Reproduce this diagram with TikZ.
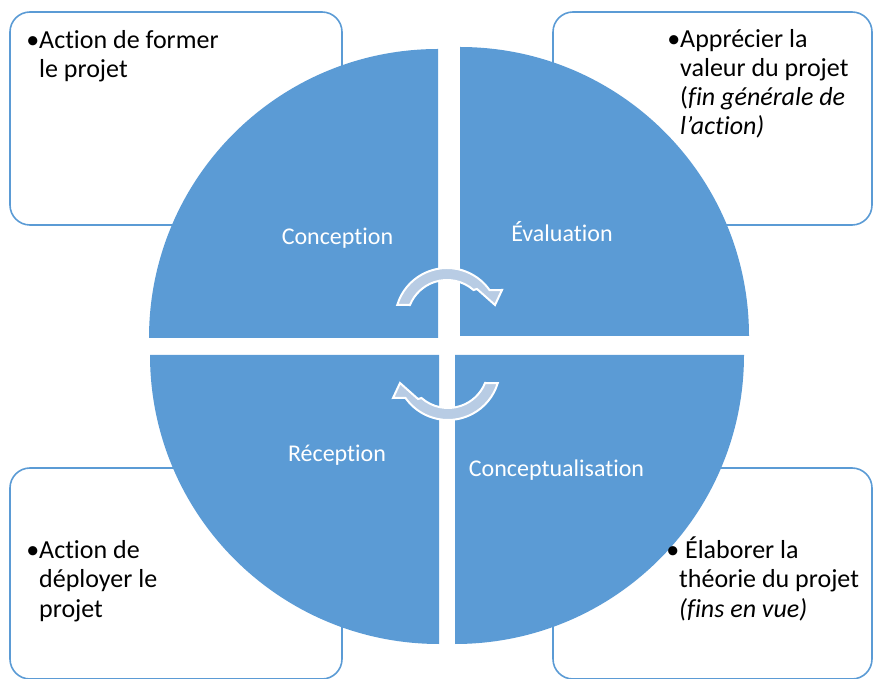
\documentclass[tikz,border=0pt]{standalone}
\usepackage{tikz}
\usepackage{fontspec}
\setmainfont{Carlito}[Ligatures={NoCommon}]
\definecolor{qblue}{HTML}{5B9BD5}
\definecolor{arrowblue}{HTML}{B8CCE4}
\begin{document}
\begin{tikzpicture}[x=1pt,y=1pt,
  box/.style={draw=qblue, line width=1.6pt, rounded corners=20pt, fill=white, rectangle, inner sep=0pt},
  quad/.style={fill=qblue},
  lbl/.style={text=white, font=\fontsize{24}{28}\selectfont, anchor=base, inner sep=0pt},
  btxt/.style={font=\fontsize{26}{29.3}\selectfont, align=left, anchor=base west, inner sep=0pt},
  cyc/.style={fill=arrowblue, draw=white, line width=2pt, line join=miter}]
\useasboundingbox (0,0) rectangle (873,678);
% corner boxes
\node[box, minimum width=332pt, minimum height=213pt] (tlbox) at (176,559.5) {};
\node[box, minimum width=319pt, minimum height=213pt] (trbox) at (712.5,559.5) {};
\node[box, minimum width=332pt, minimum height=211pt] (blbox) at (176,104.5) {};
\node[box, minimum width=319pt, minimum height=211pt] (brbox) at (712.5,104.5) {};
% quadrants
\fill[quad] (438,340) -- ++(-289,0) arc[start angle=180,end angle=90,radius=289] -- cycle;
\fill[quad] (460,342) -- ++(0,289) arc[start angle=90,end angle=0,radius=289] -- cycle;
\fill[quad] (439,323) -- ++(-289,0) arc[start angle=180,end angle=270,radius=289] -- cycle;
\fill[quad] (455,323) -- ++(289,0) arc[start angle=0,end angle=-90,radius=289] -- cycle;
% quadrant labels
\node[lbl] (conc) at (337.5,433) {Conception};
\node[lbl] (eval) at (562,436) {Évaluation};
\node[lbl] (recep) at (337,216) {Réception};
\node[lbl] (concept) at (556.5,201) {Conceptualisation};
% box texts (anchor = baseline of the last line)
\node[btxt] (t1) at (39,600) {\llap{•}Action de former\\le projet};
\node[btxt] (t2) at (680,543) {\llap{•}Apprécier la\\valeur du projet\\(\textit{fin générale de}\\\textit{l’action)}};
\node[btxt] (t3) at (39,61) {\llap{•}Action de\\déployer le\\projet};
\node[btxt] (t4) at (679,61) {\llap{•}\ Élaborer la\\théorie du projet\\\textit{(fins en vue)}};
% cycle arrows
\path[cyc] (397.3,373.2) arc[start angle=163,end angle=35.2,radius=52] -- (502,388) -- (495,373) -- (477,389) -- (473.5,388) arc[start angle=48.6,end angle=158,radius=40] -- cycle;
\begin{scope}[rotate around={180:(447.5,334)}]
\path[cyc] (397.3,373.2) arc[start angle=163,end angle=35.2,radius=52] -- (502,388) -- (495,373) -- (477,389) -- (473.5,388) arc[start angle=48.6,end angle=158,radius=40] -- cycle;
\end{scope}
\end{tikzpicture}
\end{document}
